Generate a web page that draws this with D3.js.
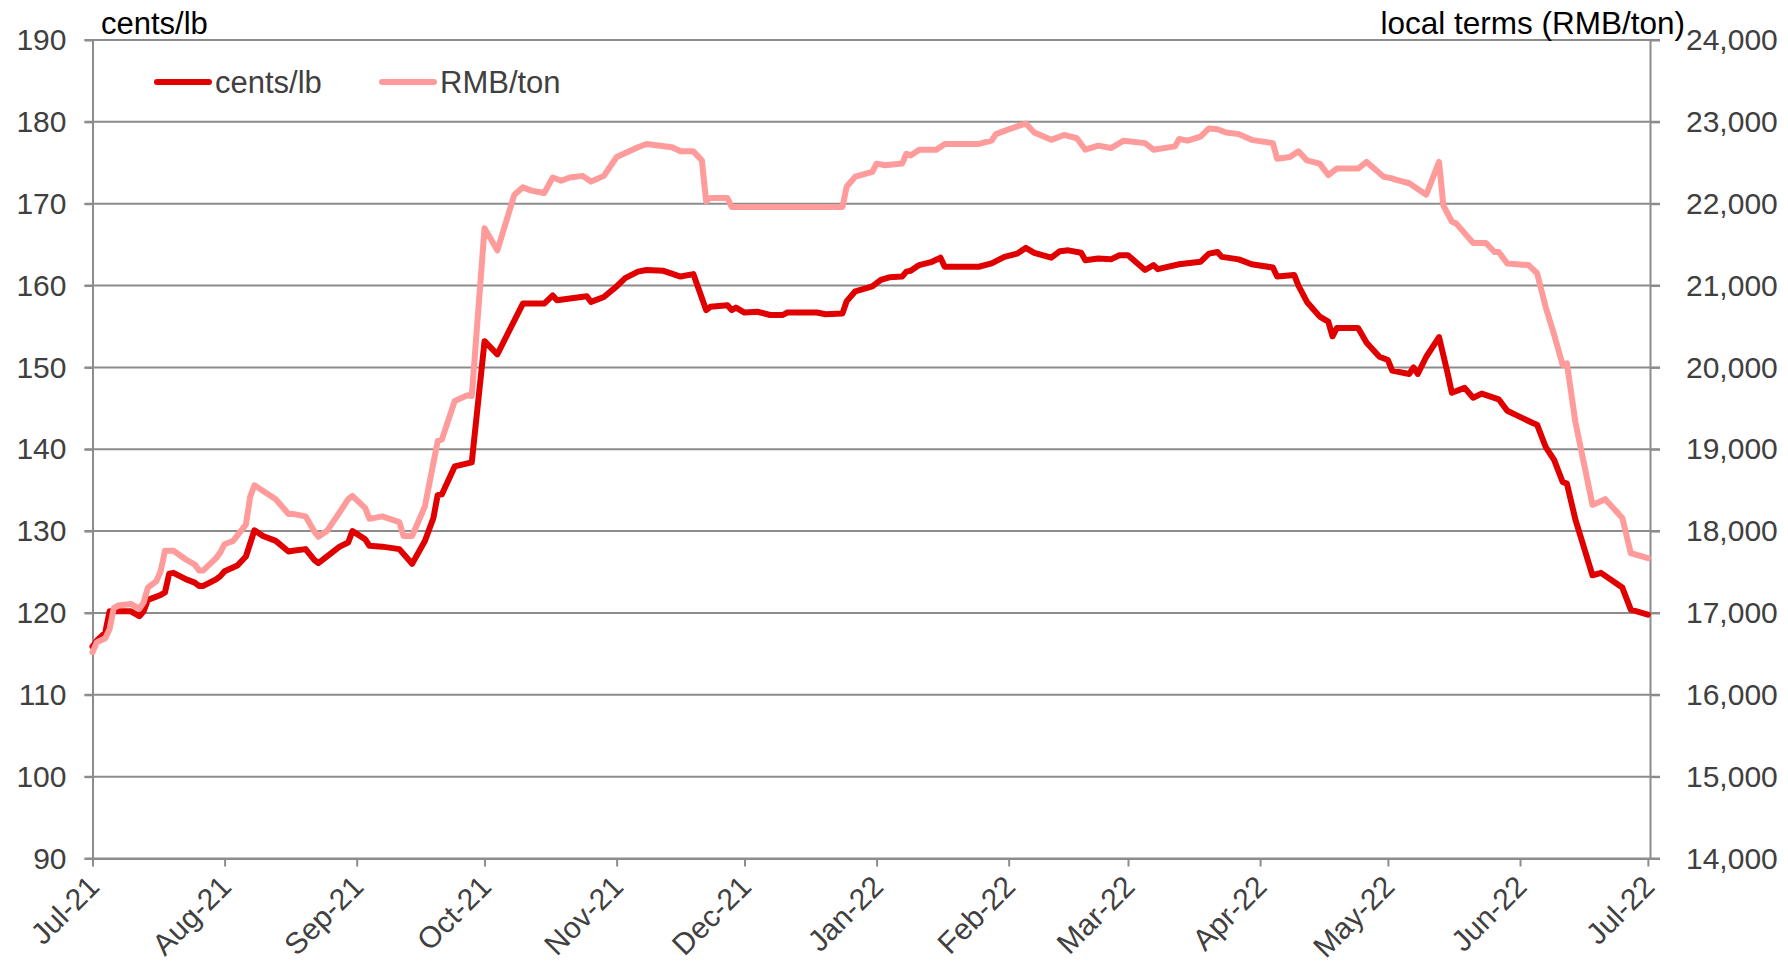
<!DOCTYPE html>
<html>
<head>
<meta charset="utf-8">
<script src="https://cdn.jsdelivr.net/npm/d3@7"></script>
<style>
    body { margin: 0; background: #fff; }
    svg { display: block; font-family: "Liberation Sans", Arial, sans-serif; }
    .axis text { fill: #404040; font-size: 30px; }
    .axis path, .axis line { stroke: #8c8c8c; stroke-width: 2; }
    .grid line { stroke: #8c8c8c; stroke-width: 2; }
</style>
</head>
<body>
<div id="chart"></div>
<script>
// Cotton price, cents/lb (left axis)
const centsSeries = [
    ['2021-07-01', 115.9], ['2021-07-02', 116.6], ['2021-07-04', 117.6], ['2021-07-05', 120.2],
    ['2021-07-06', 120.2], ['2021-07-10', 120.2], ['2021-07-12', 119.6], ['2021-07-13', 120.2],
    ['2021-07-14', 121.6], ['2021-07-17', 122.2], ['2021-07-18', 122.5], ['2021-07-19', 124.8],
    ['2021-07-20', 124.9], ['2021-07-23', 124.1], ['2021-07-25', 123.7], ['2021-07-26', 123.3],
    ['2021-07-27', 123.3], ['2021-07-30', 124.1], ['2021-07-31', 124.5], ['2021-08-01', 125.1],
    ['2021-08-04', 125.8], ['2021-08-06', 126.9], ['2021-08-08', 130.1], ['2021-08-10', 129.4],
    ['2021-08-13', 128.8], ['2021-08-16', 127.5], ['2021-08-17', 127.6], ['2021-08-20', 127.8],
    ['2021-08-22', 126.5], ['2021-08-23', 126.1], ['2021-08-28', 128.1], ['2021-08-30', 128.6],
    ['2021-08-31', 130.0], ['2021-09-03', 129.0], ['2021-09-04', 128.2], ['2021-09-07', 128.1],
    ['2021-09-11', 127.8], ['2021-09-14', 126.0], ['2021-09-17', 128.8], ['2021-09-19', 131.6],
    ['2021-09-20', 134.4], ['2021-09-21', 134.5], ['2021-09-24', 137.9], ['2021-09-28', 138.4],
    ['2021-10-01', 153.2], ['2021-10-04', 151.6], ['2021-10-10', 157.8], ['2021-10-15', 157.8],
    ['2021-10-17', 158.8], ['2021-10-18', 158.2], ['2021-10-25', 158.7], ['2021-10-26', 158.0],
    ['2021-10-29', 158.6], ['2021-11-01', 159.9], ['2021-11-03', 160.9], ['2021-11-06', 161.7],
    ['2021-11-08', 161.9], ['2021-11-12', 161.8], ['2021-11-16', 161.1], ['2021-11-19', 161.4],
    ['2021-11-22', 157.0], ['2021-11-23', 157.4], ['2021-11-27', 157.6], ['2021-11-28', 157.0],
    ['2021-11-29', 157.3], ['2021-12-01', 156.7], ['2021-12-04', 156.8], ['2021-12-07', 156.4],
    ['2021-12-10', 156.4], ['2021-12-11', 156.7], ['2021-12-18', 156.7], ['2021-12-20', 156.5],
    ['2021-12-24', 156.6], ['2021-12-25', 158.1], ['2021-12-27', 159.3], ['2021-12-31', 159.9],
    ['2022-01-02', 160.7], ['2022-01-04', 161.0], ['2022-01-07', 161.1], ['2022-01-08', 161.7],
    ['2022-01-09', 161.8], ['2022-01-11', 162.5], ['2022-01-14', 162.9], ['2022-01-16', 163.4],
    ['2022-01-17', 162.3], ['2022-01-25', 162.3], ['2022-01-28', 162.7], ['2022-01-31', 163.5],
    ['2022-02-03', 163.9], ['2022-02-05', 164.6], ['2022-02-07', 164.0], ['2022-02-11', 163.4],
    ['2022-02-13', 164.2], ['2022-02-15', 164.3], ['2022-02-18', 164.0], ['2022-02-19', 163.1],
    ['2022-02-22', 163.3], ['2022-02-25', 163.2], ['2022-02-27', 163.7], ['2022-03-01', 163.7],
    ['2022-03-05', 161.9], ['2022-03-07', 162.5], ['2022-03-08', 162.0], ['2022-03-13', 162.6],
    ['2022-03-18', 162.9], ['2022-03-20', 163.9], ['2022-03-22', 164.1], ['2022-03-23', 163.5],
    ['2022-03-27', 163.2], ['2022-03-30', 162.6], ['2022-04-04', 162.2], ['2022-04-05', 161.1],
    ['2022-04-09', 161.3], ['2022-04-10', 160.0], ['2022-04-12', 158.0], ['2022-04-15', 156.2],
    ['2022-04-17', 155.6], ['2022-04-18', 153.8], ['2022-04-19', 154.8], ['2022-04-24', 154.8],
    ['2022-04-26', 153.0], ['2022-04-29', 151.3], ['2022-05-01', 150.9], ['2022-05-02', 149.6],
    ['2022-05-06', 149.2], ['2022-05-07', 150.0], ['2022-05-08', 149.2], ['2022-05-10', 151.3],
    ['2022-05-13', 153.7], ['2022-05-15', 149.3], ['2022-05-16', 146.9], ['2022-05-19', 147.5],
    ['2022-05-21', 146.3], ['2022-05-23', 146.8], ['2022-05-27', 146.1], ['2022-05-29', 144.7],
    ['2022-05-31', 144.2], ['2022-06-04', 143.2], ['2022-06-05', 143.0], ['2022-06-07', 140.3],
    ['2022-06-09', 138.7], ['2022-06-11', 136.0], ['2022-06-12', 135.8], ['2022-06-14', 131.4],
    ['2022-06-18', 124.6], ['2022-06-20', 124.9], ['2022-06-25', 123.1], ['2022-06-27', 120.4],
    ['2022-07-01', 119.8]
];

// Cotton price in local terms, RMB/ton (right axis)
const rmbSeries = [
    ['2021-07-01', 16520], ['2021-07-02', 16640], ['2021-07-04', 16690], ['2021-07-05', 16800],
    ['2021-07-06', 17060], ['2021-07-07', 17090], ['2021-07-10', 17110], ['2021-07-12', 17050],
    ['2021-07-13', 17130], ['2021-07-14', 17310], ['2021-07-16', 17390], ['2021-07-17', 17510],
    ['2021-07-18', 17760], ['2021-07-20', 17760], ['2021-07-23', 17650], ['2021-07-25', 17590],
    ['2021-07-26', 17520], ['2021-07-27', 17520], ['2021-07-30', 17670], ['2021-07-31', 17740],
    ['2021-08-01', 17840], ['2021-08-03', 17880], ['2021-08-06', 18080], ['2021-08-07', 18420],
    ['2021-08-08', 18560], ['2021-08-13', 18390], ['2021-08-16', 18210], ['2021-08-17', 18210],
    ['2021-08-20', 18180], ['2021-08-22', 18000], ['2021-08-23', 17930], ['2021-08-25', 18000],
    ['2021-08-28', 18230], ['2021-08-30', 18390], ['2021-08-31', 18430], ['2021-09-03', 18280],
    ['2021-09-04', 18150], ['2021-09-07', 18180], ['2021-09-11', 18110], ['2021-09-12', 17940],
    ['2021-09-14', 17940], ['2021-09-17', 18300], ['2021-09-20', 19100], ['2021-09-21', 19120],
    ['2021-09-24', 19590], ['2021-09-27', 19660], ['2021-09-28', 19650], ['2021-10-01', 21700],
    ['2021-10-04', 21430], ['2021-10-08', 22110], ['2021-10-10', 22200], ['2021-10-12', 22160],
    ['2021-10-15', 22130], ['2021-10-17', 22320], ['2021-10-19', 22280], ['2021-10-21', 22320],
    ['2021-10-24', 22340], ['2021-10-26', 22270], ['2021-10-29', 22340], ['2021-11-01', 22570],
    ['2021-11-06', 22690], ['2021-11-08', 22730], ['2021-11-14', 22690], ['2021-11-16', 22640],
    ['2021-11-19', 22640], ['2021-11-21', 22530], ['2021-11-22', 22030], ['2021-11-23', 22070],
    ['2021-11-27', 22070], ['2021-11-28', 21960], ['2021-12-24', 21960], ['2021-12-25', 22210],
    ['2021-12-27', 22330], ['2021-12-31', 22390], ['2022-01-01', 22490], ['2022-01-03', 22470],
    ['2022-01-07', 22490], ['2022-01-08', 22610], ['2022-01-09', 22590], ['2022-01-11', 22660],
    ['2022-01-15', 22660], ['2022-01-17', 22730], ['2022-01-25', 22730], ['2022-01-28', 22770],
    ['2022-01-29', 22850], ['2022-01-31', 22890], ['2022-02-05', 22980], ['2022-02-07', 22870],
    ['2022-02-11', 22780], ['2022-02-14', 22840], ['2022-02-17', 22800], ['2022-02-19', 22660],
    ['2022-02-22', 22710], ['2022-02-25', 22680], ['2022-02-28', 22770], ['2022-03-05', 22740],
    ['2022-03-07', 22660], ['2022-03-12', 22700], ['2022-03-13', 22790], ['2022-03-15', 22770],
    ['2022-03-18', 22820], ['2022-03-20', 22920], ['2022-03-22', 22910], ['2022-03-24', 22870],
    ['2022-03-27', 22850], ['2022-03-30', 22780], ['2022-04-04', 22740], ['2022-04-05', 22550],
    ['2022-04-08', 22570], ['2022-04-10', 22640], ['2022-04-12', 22530], ['2022-04-15', 22490],
    ['2022-04-17', 22350], ['2022-04-19', 22430], ['2022-04-24', 22430], ['2022-04-26', 22510],
    ['2022-04-30', 22330], ['2022-05-02', 22310], ['2022-05-03', 22290], ['2022-05-06', 22250],
    ['2022-05-10', 22110], ['2022-05-13', 22510], ['2022-05-14', 21980], ['2022-05-16', 21780],
    ['2022-05-17', 21760], ['2022-05-21', 21520], ['2022-05-24', 21520], ['2022-05-26', 21410],
    ['2022-05-27', 21410], ['2022-05-29', 21270], ['2022-06-03', 21250], ['2022-06-05', 21150],
    ['2022-06-07', 20740], ['2022-06-09', 20400], ['2022-06-11', 20030], ['2022-06-12', 20050],
    ['2022-06-14', 19330], ['2022-06-18', 18320], ['2022-06-21', 18390], ['2022-06-25', 18160],
    ['2022-06-27', 17730], ['2022-07-01', 17670]
];

const leftTicks = [90, 100, 110, 120, 130, 140, 150, 160, 170, 180, 190];
const rightTicks = [14000, 15000, 16000, 17000, 18000, 19000, 20000, 21000, 22000, 23000, 24000];
const dateRange = ['2021-07-01', '2022-07-01T12:00'];
const legendLabels = ['cents/lb', 'RMB/ton'];
const seriesColors = ['#e00000', '#ff9b9b'];

class DualAxisChart {

    constructor(_config) {
        this.config = {
            parentElement: _config.parentElement,
            containerWidth: _config.containerWidth || 1788,
            containerHeight: _config.containerHeight || 977,
            margin: _config.margin || {top: 40, right: 138, bottom: 118.5, left: 92.5}
        };
        this.initVis();
    }

    initVis() {
        let vis = this;

        vis.width = vis.config.containerWidth - vis.config.margin.left - vis.config.margin.right;
        vis.height = vis.config.containerHeight - vis.config.margin.top - vis.config.margin.bottom;

        vis.parseDate = d3.timeParse('%Y-%m-%d');
        vis.xScale = d3.scaleTime()
            .domain([vis.parseDate(dateRange[0]), d3.isoParse(dateRange[1])])
            .range([0, vis.width]);

        vis.yLeft = d3.scaleLinear().domain([90, 190]).range([vis.height, 0]);
        vis.yRight = d3.scaleLinear().domain([14000, 24000]).range([vis.height, 0]);

        vis.svg = d3.select(vis.config.parentElement)
            .append('svg')
            .attr('width', vis.config.containerWidth)
            .attr('height', vis.config.containerHeight);

        vis.chart = vis.svg.append('g')
            .attr('transform', `translate(${vis.config.margin.left},${vis.config.margin.top})`);

        // Horizontal gridlines, they also make the outer ticks on both sides
        vis.chart.append('g')
            .attr('class', 'grid')
            .selectAll('line')
            .data(leftTicks)
            .join('line')
            .attr('x1', -8)
            .attr('x2', vis.width + 10)
            .attr('y1', d => vis.yLeft(d))
            .attr('y2', d => vis.yLeft(d));

        // Axes
        vis.chart.append('g')
            .attr('class', 'axis y-axis')
            .call(d3.axisLeft(vis.yLeft).tickValues(leftTicks).tickSize(8).tickSizeOuter(0).tickPadding(18));

        vis.chart.append('g')
            .attr('class', 'axis y-axis-right')
            .attr('transform', `translate(${vis.width},0)`)
            .call(d3.axisRight(vis.yRight).tickValues(rightTicks).tickFormat(d3.format(','))
                .tickSize(10).tickPadding(26).tickSizeOuter(0));

        vis.xAxisG = vis.chart.append('g')
            .attr('class', 'axis x-axis')
            .attr('transform', `translate(0,${vis.height})`)
            .call(d3.axisBottom(vis.xScale).ticks(d3.timeMonth.every(1))
                .tickFormat(d3.timeFormat('%b-%y')).tickSize(8).tickSizeOuter(0));

        // rotate month labels like the original
        vis.xAxisG.selectAll('text')
            .attr('y', null)
            .attr('dy', null)
            .attr('text-anchor', 'end')
            .attr('transform', 'translate(8,30) rotate(-45)');

        // Axis titles
        vis.svg.append('text')
            .attr('x', 101)
            .attr('y', 34)
            .attr('font-size', 31)
            .attr('fill', '#000')
            .text('cents/lb');

        vis.svg.append('text')
            .attr('x', 1685)
            .attr('y', 34)
            .attr('font-size', 31.5)
            .attr('fill', '#000')
            .attr('text-anchor', 'end')
            .text('local terms (RMB/ton)');
    }

    renderVis() {
        let vis = this;

        const centsData = centsSeries.map(d => ({date: vis.parseDate(d[0]), value: d[1]}));
        const rmbData = rmbSeries.map(d => ({date: vis.parseDate(d[0]), value: d[1]}));

        const centsLine = d3.line()
            .x(d => vis.xScale(d.date))
            .y(d => vis.yLeft(d.value));

        const rmbLine = d3.line()
            .x(d => vis.xScale(d.date))
            .y(d => vis.yRight(d.value));

        vis.chart.append('path')
            .datum(centsData)
            .attr('fill', 'none')
            .attr('stroke', seriesColors[0])
            .attr('stroke-width', 6)
            .attr('stroke-linejoin', 'round')
            .attr('stroke-linecap', 'round')
            .attr('d', centsLine);

        vis.chart.append('path')
            .datum(rmbData)
            .attr('fill', 'none')
            .attr('stroke', seriesColors[1])
            .attr('stroke-width', 6)
            .attr('stroke-linejoin', 'round')
            .attr('stroke-linecap', 'round')
            .attr('d', rmbLine);

        // Legend
        const legend = vis.svg.append('g')
            .selectAll('g')
            .data(legendLabels)
            .join('g')
            .attr('transform', (d, i) => `translate(${i === 0 ? 157 : 382},82)`);

        legend.append('line')
            .attr('x1', 0)
            .attr('x2', 52)
            .attr('stroke', (d, i) => seriesColors[i])
            .attr('stroke-width', 6)
            .attr('stroke-linecap', 'round');

        legend.append('text')
            .attr('x', 58)
            .attr('y', 11)
            .attr('font-size', 31)
            .attr('fill', '#404040')
            .text(d => d);
    }
}

const chart = new DualAxisChart({parentElement: '#chart'});
chart.renderVis();
</script>
</body>
</html>
